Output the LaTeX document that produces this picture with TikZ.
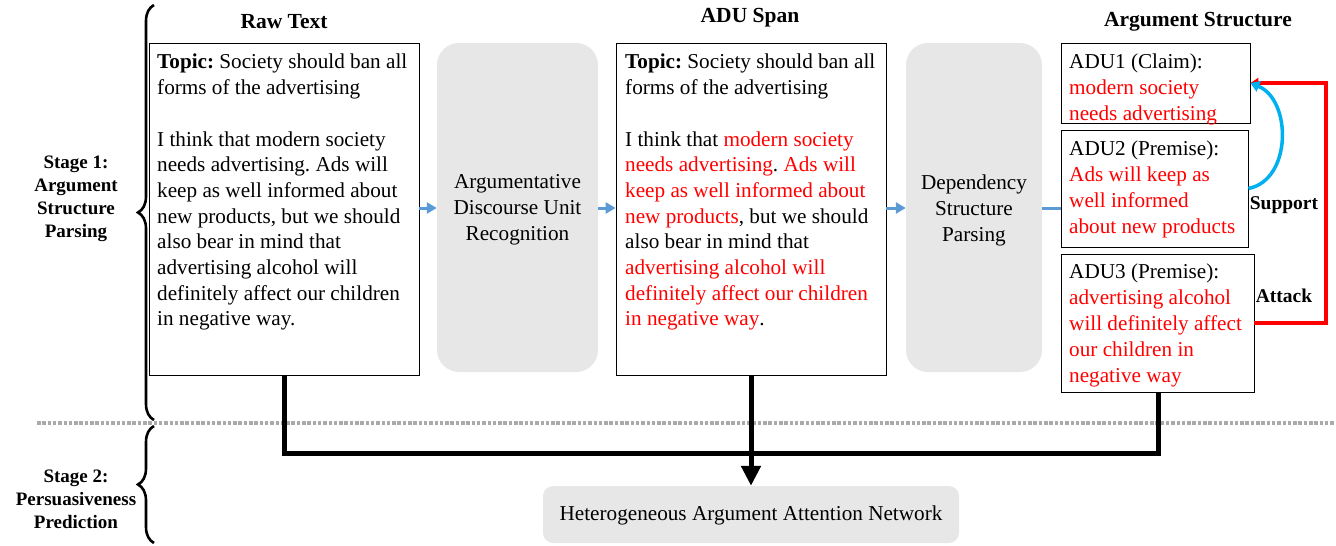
\documentclass[tikz,border=0pt]{standalone}
\usepackage{fontspec}
\setmainfont{Liberation Serif}
\usetikzlibrary{decorations.pathreplacing,arrows.meta}
\definecolor{adured}{RGB}{255,0,0}
\definecolor{flowblue}{RGB}{91,155,213}
\definecolor{supblue}{RGB}{0,176,240}
\definecolor{boxgray}{RGB}{231,231,231}
\definecolor{sepgray}{RGB}{170,170,170}
\newcommand{\rd}[1]{\textcolor{adured}{#1}}
\frenchspacing
\begin{document}
\begin{tikzpicture}[x=1pt,y=-1pt,
  txtbox/.style={draw=black, line width=0.8pt, inner sep=0pt},
  graybox/.style={fill=boxgray, rounded corners=22pt, inner sep=0pt},
  graytxt/.style={inner sep=0pt, align=center, font=\fontsize{21.2}{26}\selectfont},
  bodytxt/.style={anchor=north west, inner sep=0pt, align=left, font=\fontsize{21.2}{25.7}\selectfont},
  titletxt/.style={font=\bfseries\fontsize{21.5}{24}\selectfont},
  stagetxt/.style={align=center, font=\bfseries\fontsize{19}{23}\selectfont},
  edgelbl/.style={font=\bfseries\fontsize{19.5}{22}\selectfont},
  flowarrow/.style={draw=flowblue, line width=3pt, -{Triangle[length=10pt,width=11pt]}},
  flowline/.style={draw=flowblue, line width=3pt},
  bus/.style={draw=black, line width=5pt},
  attack/.style={draw=adured, line width=3.5pt, -{Triangle[length=8pt,width=10pt]}},
  support/.style={draw=supblue, line width=3.5pt, -{Triangle[length=9pt,width=11pt]}},
  bracestyle/.style={draw=black, line width=2.6pt, decorate, decoration={brace, amplitude=16pt, aspect=0.5}}
]
\useasboundingbox (0,0) rectangle (1336,546);

% separator
\draw[sepgray, line width=4pt, dash pattern=on 3.5pt off 1.8pt] (37,423) -- (1336,423);

% braces
\coordinate (b1a) at (154,420);
\coordinate (b1b) at (154,5);
\coordinate (b2a) at (154,543);
\coordinate (b2b) at (154,426);
\draw[bracestyle] (b1a) -- (b1b);
\draw[bracestyle] (b2a) -- (b2b);

\node[stagetxt] (st1) at (76,199) {Stage 1:\\Argument\\Structure\\Parsing};
\node[stagetxt] (st2) at (76,499) {Stage 2:\\Persuasiveness\\Prediction};

% titles
\node[titletxt] (t1) at (284,22) {Raw Text};
\node[titletxt] (t2) at (750,18) {ADU Span};
\node[titletxt] (t3) at (1198,22) {Argument Structure};

% raw text box
\node[txtbox, minimum width=270pt, minimum height=332pt] (raw) at (284,209) {};
\node[bodytxt] (rawtxt) at (157,54) {\textbf{Topic:} Society should ban all\\
forms of the advertising\\[25.7pt]
I think that modern society\\
needs advertising. Ads will\\
keep as well informed about\\
new products, but we should\\
also bear in mind that\\
advertising alcohol will\\
definitely affect our children\\
in negative way.};

% gray box 1
\node[graybox, minimum width=161pt, minimum height=329pt] (g1) at (517.5,207.5) {};
\node[graytxt] (g1txt) at (517.5,210) {Argumentative\\Discourse Unit\\Recognition};

% ADU span box
\node[txtbox, minimum width=270pt, minimum height=332pt] (span) at (751,209) {};
\node[bodytxt] (spantxt) at (625,54) {\textbf{Topic:} Society should ban all\\
forms of the advertising\\[25.7pt]
I think that \rd{modern society}\\
\rd{needs advertising}. \rd{Ads will}\\
\rd{keep as well informed about}\\
\rd{new products}, but we should\\
also bear in mind that\\
\rd{advertising alcohol will}\\
\rd{definitely affect our children}\\
\rd{in negative way}.};

% gray box 2
\node[graybox, minimum width=136pt, minimum height=329pt] (g2) at (974,207.5) {};
\node[graytxt] (g2txt) at (974,210) {Dependency\\Structure\\Parsing};

% ADU boxes
\node[txtbox, minimum width=189pt, minimum height=80pt] (adu1) at (1155.5,83) {};
\node[bodytxt] (adu1txt) at (1069,54) {ADU1 (Claim):\\\rd{modern society}\\\rd{needs advertising}};
\node[txtbox, minimum width=187pt, minimum height=117pt] (adu2) at (1154.5,188.5) {};
\node[bodytxt] (adu2txt) at (1069,141) {ADU2 (Premise):\\\rd{Ads will keep as}\\\rd{well informed}\\\rd{about new products}};
\node[txtbox, minimum width=193pt, minimum height=138pt] (adu3) at (1157.5,323) {};
\node[bodytxt, font=\fontsize{21.2}{26}\selectfont] (adu3txt) at (1069,264) {ADU3 (Premise):\\\rd{advertising alcohol}\\\rd{will definitely affect}\\\rd{our children in}\\\rd{negative way}};

% bottom box
\node[graybox, rounded corners=10pt, minimum width=416pt, minimum height=57pt] (han) at (751,514.5) {};
\node[graytxt] (hantxt) at (751,515) {Heterogeneous Argument Attention Network};

% flow arrows
\draw[flowarrow] (raw.east |- 0,208) -- (g1.west |- 0,208);
\draw[flowarrow] (g1.east |- 0,208) -- (span.west |- 0,208);
\draw[flowarrow] (span.east |- 0,208) -- (g2.west |- 0,208);
\draw[flowline] (g2.east |- 0,208) -- (adu2.west |- 0,208);

% relations
\coordinate (attC) at (1326,0);
\draw[attack] (adu3.east) -- (adu3.east -| attC) |- (adu1.east);
\draw[support] (adu2.east) .. controls (1292,180) and (1292,100) .. (adu1.east);
\node[edgelbl] (suplbl) at (1284,205) {Support};
\node[edgelbl] (attlbl) at (1284,296) {Attack};

% bus to bottom
\coordinate (busL) at (284,453);
\coordinate (busR) at (1158,453);
\draw[bus] (raw.south) -- (busL) -- (busR) -- (busR |- adu3.south);
\draw[bus, -{Triangle[length=20pt,width=19pt]}] (span.south) -- (han.north);
\end{tikzpicture}
\end{document}
